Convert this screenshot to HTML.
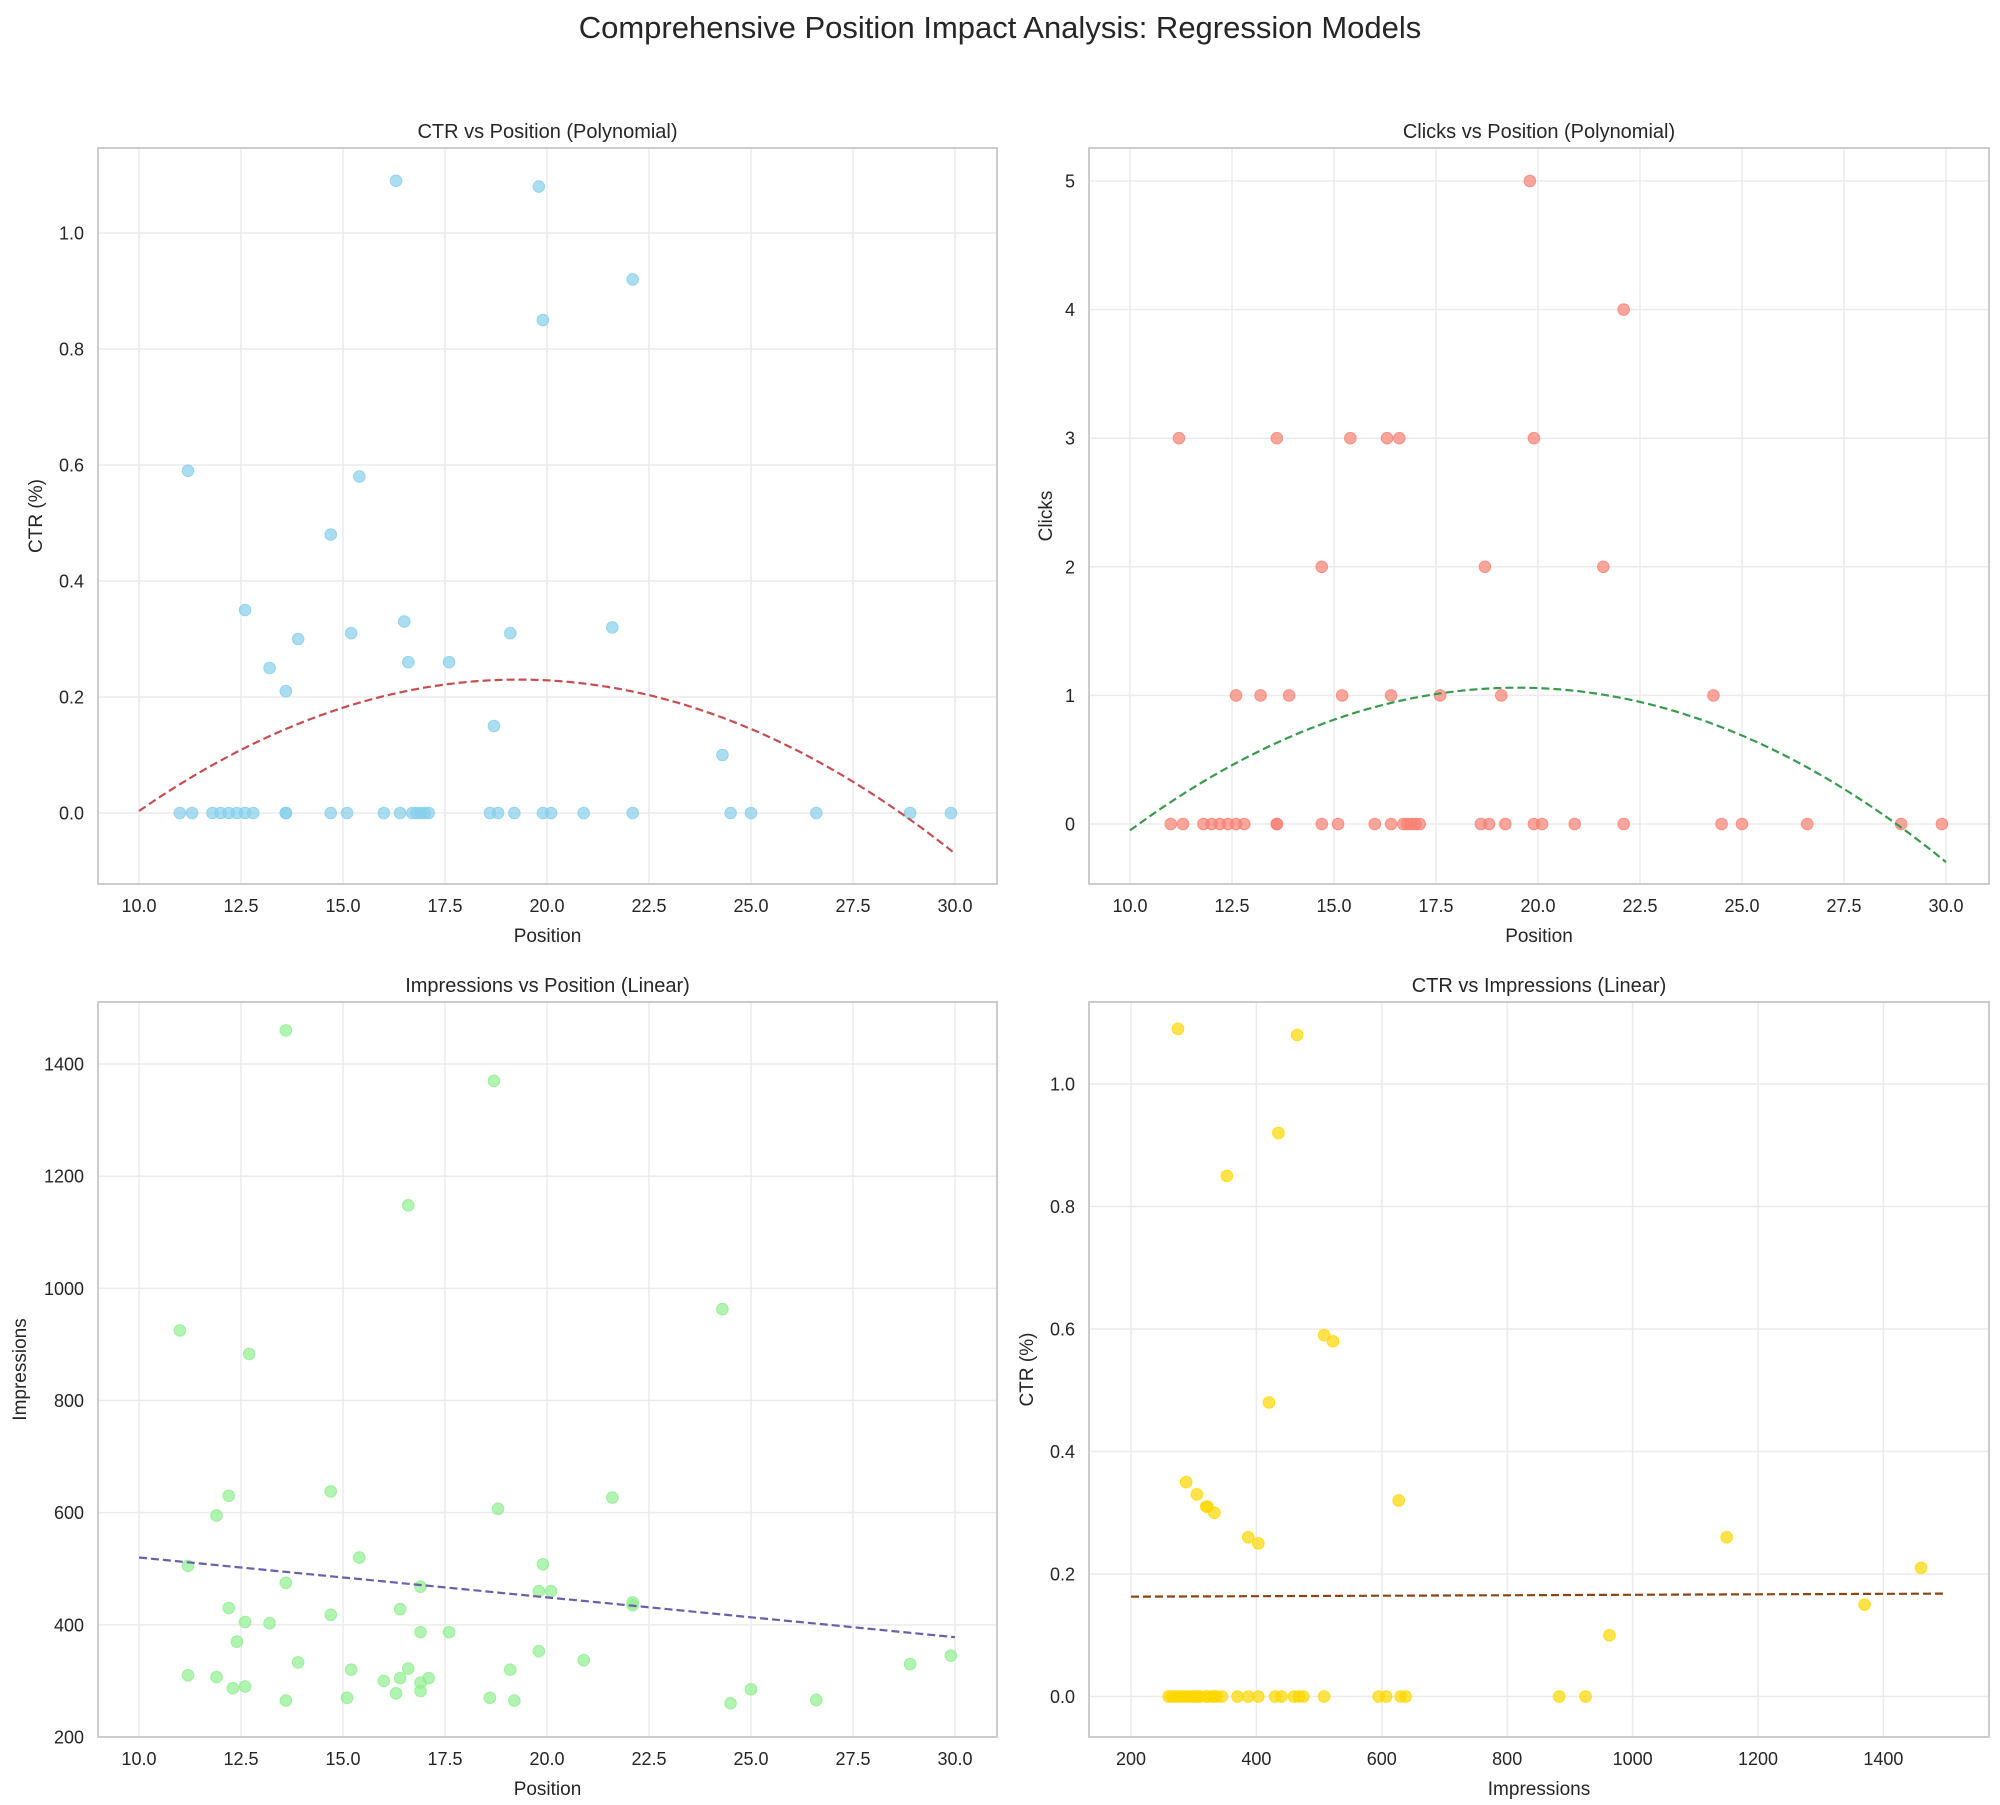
<!DOCTYPE html>
<html><head><meta charset="utf-8">
<style>
html,body{margin:0;padding:0;background:#fff;}
svg{display:block;font-family:"Liberation Sans",Arial,sans-serif;}
</style></head>
<body>
<svg id="s" width="2000" height="1805" xmlns="http://www.w3.org/2000/svg">
<rect width="2000" height="1805" fill="#fff"/>
<text x="1000" y="38" font-size="31" text-anchor="middle" fill="#262626">Comprehensive Position Impact Analysis: Regression Models</text>
</svg>
<script>
var S=document.getElementById('s'),NS='http://www.w3.org/2000/svg';
function el(t,a,txt){var e=document.createElementNS(NS,t);for(var k in a)e.setAttribute(k,a[k]);if(txt!=null)e.textContent=txt;S.appendChild(e);return e;}
var pos=[11.0,11.3,11.2,11.8,12.0,12.2,12.4,12.6,12.6,12.8,13.2,13.6,13.6,13.6,13.9,14.7,14.7,15.2,15.1,15.4,16.0,16.3,16.4,16.5,16.6,16.7,16.8,16.9,17.0,17.1,17.6,18.6,18.7,18.8,19.1,19.2,19.8,19.9,19.9,20.1,20.9,21.6,22.1,22.1,24.3,24.5,25.0,26.6,28.9,29.9];
var ctr=[0,0,0.59,0,0,0,0,0,0.35,0,0.25,0.21,0,0,0.30,0.48,0,0.31,0,0.58,0,1.09,0,0.33,0.26,0,0,0,0,0,0.26,0,0.15,0,0.31,0,1.08,0.85,0,0,0,0.32,0.92,0,0.10,0,0,0,0,0];
var clk=[[11.2,3],[13.6,3],[15.4,3],[16.3,3],[16.6,3],[19.9,3],[19.8,5],[22.1,4],[14.7,2],[18.7,2],[21.6,2],[12.6,1],[13.2,1],[13.9,1],[15.2,1],[16.4,1],[17.6,1],[19.1,1],[24.3,1]];
[11.0,11.3,11.8,12.0,12.2,12.4,12.6,12.8,13.6,13.6,14.7,15.1,16.0,16.4,16.7,16.8,16.9,17.0,17.1,18.6,18.8,19.2,19.9,20.1,20.9,22.1,24.5,25.0,26.6,28.9,29.9].forEach(function(p){clk.push([p,0]);});
var imp=[[11.0,925],[11.2,505],[11.2,310],[11.9,307],[11.9,595],[12.2,630],[12.2,430],[12.3,287],[12.4,370],[12.6,405],[12.6,290],[12.7,883],[13.2,403],[13.6,1460],[13.6,475],[13.6,265],[13.9,333],[14.7,418],[14.7,638],[15.1,270],[15.2,320],[15.4,520],[16.0,300],[16.3,278],[16.4,428],[16.4,305],[16.6,1148],[16.6,322],[16.9,297],[16.9,468],[16.9,387],[16.9,282],[17.1,305],[17.6,387],[18.6,270],[18.7,1370],[18.8,607],[19.1,320],[19.2,265],[19.8,460],[19.8,353],[19.9,508],[20.1,460],[20.9,337],[21.6,627],[22.1,440],[22.1,435],[24.3,963],[24.5,260],[25.0,285],[26.6,266],[28.9,330],[29.9,345]];
var br=[[275,1.09],[465,1.08],[435,0.92],[353,0.85],[508,0.59],[522,0.58],[420,0.48],[288,0.35],[305,0.33],[320,0.31],[322,0.31],[333,0.30],[387,0.26],[403,0.25],[627,0.32],[1150,0.26],[1460,0.21],[1370,0.15],[963,0.10]];
[260,265,270,275,280,285,290,297,300,305,307,310,320,322,330,333,337,345,370,387,403,430,440,460,468,475,508,595,607,630,638,883,925].forEach(function(v){br.push([v,0]);});

function panel(o){
 var L=o.L,R=o.R,T=o.T,B=o.B;
 function X(v){return o.x0+(v-o.xv0)*o.xs;}
 function Y(v){return o.y0-(v-o.yv0)*o.ys;}
 o.xt.forEach(function(t){var x=X(t);el('line',{x1:x,x2:x,y1:T,y2:B,stroke:'#ebebeb','stroke-width':1.5});
  el('text',{x:x,y:B+28,'font-size':18,'text-anchor':'middle',fill:'#262626'},o.xf(t));});
 o.yt.forEach(function(t){var y=Y(t);el('line',{x1:L,x2:R,y1:y,y2:y,stroke:'#ebebeb','stroke-width':1.5});
  el('text',{x:L-14,y:y+6.5,'font-size':18,'text-anchor':'end',fill:'#262626'},o.yf(t));});
 o.pts.forEach(function(p){el('circle',{cx:X(p[0]),cy:Y(p[1]),r:5.8,fill:o.c,'fill-opacity':0.7,stroke:o.c,'stroke-opacity':0.8,'stroke-width':1});});
 var d='';for(var i=0;i<=100;i++){var v=o.lx0+(o.lx1-o.lx0)*i/100;d+=(i?'L':'M')+X(v).toFixed(1)+' '+Y(o.f(v)).toFixed(1);}
 el('path',{d:d,fill:'none',stroke:o.lc,'stroke-width':2.2,'stroke-dasharray':'8,4'});
 el('rect',{x:L,y:T,width:R-L,height:B-T,fill:'none',stroke:'#cccccc','stroke-width':2});
 el('text',{x:(L+R)/2,y:T-10,'font-size':20,'text-anchor':'middle',fill:'#262626'},o.title);
 el('text',{x:(L+R)/2,y:B+58,'font-size':19,'text-anchor':'middle',fill:'#262626'},o.xl);
 var yx=o.ylx,yy=(T+B)/2;el('text',{x:yx,y:yy,'font-size':19,'text-anchor':'middle',fill:'#262626',transform:'rotate(-90 '+yx+' '+yy+')'},o.yl);
}
var f1=function(t){return t.toFixed(1);},f0=function(t){return String(t);};
var xp=[10,12.5,15,17.5,20,22.5,25,27.5,30];
panel({L:98,R:997,T:148,B:884,x0:139,xv0:10,xs:40.8,y0:813,yv0:0,ys:580,xt:xp,yt:[0,0.2,0.4,0.6,0.8,1.0],xf:f1,yf:f1,
 pts:pos.map(function(p,i){return [p,ctr[i]];}),c:'#87CEEB',lc:'#c44e52',lx0:10,lx1:30,f:function(x){return 0.23-0.00262*(x-19.3)*(x-19.3);},
 title:'CTR vs Position (Polynomial)',xl:'Position',yl:'CTR (%)',ylx:42});
panel({L:1089,R:1989,T:148,B:884,x0:1130,xv0:10,xs:40.8,y0:824,yv0:0,ys:128.6,xt:xp,yt:[0,1,2,3,4,5],xf:f1,yf:f0,
 pts:clk,c:'#FA8072',lc:'#3a9a4f',lx0:10,lx1:30,f:function(x){return 1.06-0.0123*(x-19.5)*(x-19.5);},
 title:'Clicks vs Position (Polynomial)',xl:'Position',yl:'Clicks',ylx:1052});
panel({L:98,R:997,T:1002,B:1737,x0:139,xv0:10,xs:40.8,y0:1737,yv0:200,ys:0.5608,xt:xp,yt:[200,400,600,800,1000,1200,1400],xf:f1,yf:f0,
 pts:imp,c:'#90EE90',lc:'#6a60a9',lx0:10,lx1:30,f:function(x){return 520-7.1*(x-10);},
 title:'Impressions vs Position (Linear)',xl:'Position',yl:'Impressions',ylx:26});
panel({L:1089,R:1989,T:1002,B:1737,x0:1131,xv0:200,xs:0.627,y0:1696.5,yv0:0,ys:612.5,xt:[200,400,600,800,1000,1200,1400],yt:[0,0.2,0.4,0.6,0.8,1.0],xf:f0,yf:f1,
 pts:br,c:'#FFD700',lc:'#8B4513',lx0:200,lx1:1500,f:function(x){return 0.163+0.005*(x-200)/1300;},
 title:'CTR vs Impressions (Linear)',xl:'Impressions',yl:'CTR (%)',ylx:1033});
</script>
</body></html>
